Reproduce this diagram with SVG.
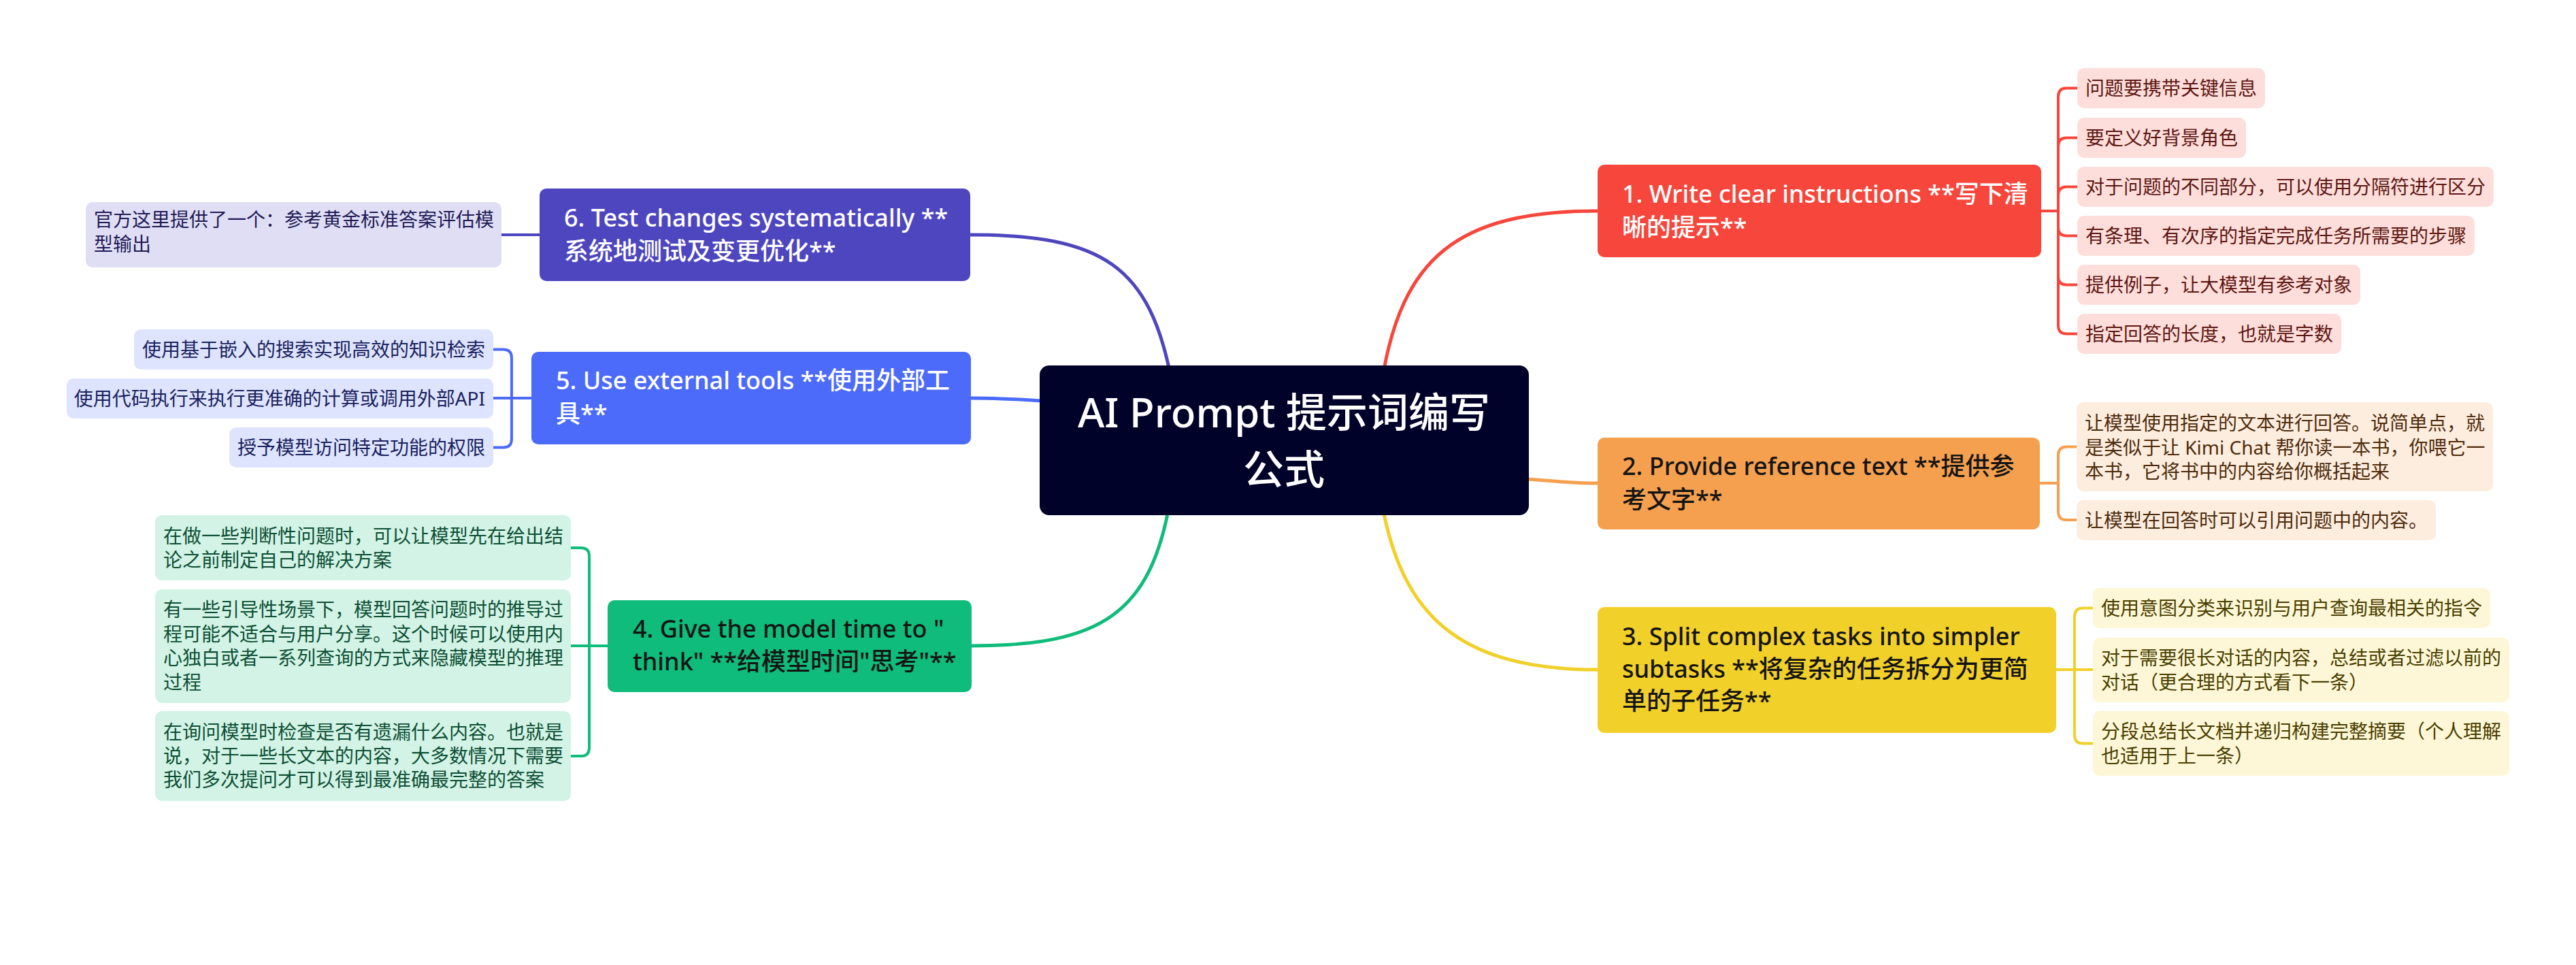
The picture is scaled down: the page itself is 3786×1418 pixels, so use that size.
<svg xmlns="http://www.w3.org/2000/svg" width="3786" height="1418" viewBox="0 0 3786 1418">
<style>
text{font-family:"Noto Sans","Noto Sans CJK SC",sans-serif;}
.main{font-size:36px;font-weight:500;}
.sub{font-size:28px;}
.cl{fill:none;stroke-width:5;stroke-linecap:round;}
.sl{fill:none;stroke-width:4;stroke-linecap:round;stroke-linejoin:round;}
.w{fill:#ffffff;}
.d{fill:#141414;}
</style>
<rect width="3786" height="1418" fill="#ffffff"/>
<g id="connectors">
<path class="cl" stroke="#F7463B" d="M2031,560 C2060,380 2140,310 2348,310"/>
<path class="cl" stroke="#F5A04F" d="M2230,703 C2290,707 2310,710 2348,710"/>
<path class="cl" stroke="#F2D02A" d="M2031,740 C2060,900 2140,984 2348,984"/>
<path class="cl" stroke="#4E46BF" d="M1722,560 C1690,390 1620,345 1426,345"/>
<path class="cl" stroke="#4D6BFA" d="M1545,590 C1490,586 1460,585 1427,585"/>
<path class="cl" stroke="#0FBC7B" d="M1719,740 C1690,900 1620,949 1428,949"/>
<g stroke="#F7463B" class="sl">
<path class="sl" d="M3000,310 H3025"/>
<path class="sl" d="M3025,310 V142 Q3025,129.5 3037,129.5 H3053"/>
<path class="sl" d="M3025,310 V215 Q3025,202.5 3037,202.5 H3053"/>
<path class="sl" d="M3025,310 V287 Q3025,274.5 3037,274.5 H3053"/>
<path class="sl" d="M3025,310 V334 Q3025,346.5 3037,346.5 H3053"/>
<path class="sl" d="M3025,310 V406 Q3025,418.5 3037,418.5 H3053"/>
<path class="sl" d="M3025,310 V478 Q3025,490.5 3037,490.5 H3053"/>
</g>
<g stroke="#F5A04F">
<path class="sl" d="M2998,710 H3025"/>
<path class="sl" d="M3025,710 V669 Q3025,656.5 3037,656.5 H3052"/>
<path class="sl" d="M3025,710 V752 Q3025,764 3037,764 H3052"/>
</g>
<g stroke="#F2D02A">
<path class="sl" d="M3022,984 H3076"/>
<path class="sl" d="M3049,984 V906 Q3049,893.5 3061,893.5 H3076"/>
<path class="sl" d="M3049,984 V1080 Q3049,1092.5 3061,1092.5 H3076"/>
</g>
<g stroke="#4E46BF">
<path class="sl" d="M737,345 H793"/>
</g>
<g stroke="#4D6BFA">
<path class="sl" d="M781,585 H725"/>
<path class="sl" d="M752,585 V526 Q752,513.5 740,513.5 H725"/>
<path class="sl" d="M752,585 V645 Q752,657.5 740,657.5 H725"/>
</g>
<g stroke="#0FBC7B">
<path class="sl" d="M893,949 H839"/>
<path class="sl" d="M866,949 V817 Q866,805 854,805 H839"/>
<path class="sl" d="M866,949 V1099 Q866,1111 854,1111 H839"/>
</g>
</g>
<g id="central">
<rect x="1528" y="537" width="719" height="220" rx="14" fill="#000229"/>
<text x="1887" y="628" text-anchor="middle" font-size="60" font-weight="500" fill="#ffffff">AI Prompt 提示词编写</text>
<text x="1887" y="712" text-anchor="middle" font-size="60" font-weight="500" fill="#ffffff">公式</text>
</g>
<g id="node1">
<rect x="2348" y="242" width="652" height="136" rx="10" fill="#F7463B"/>
<text class="main w" x="2384" y="298">1. Write clear instructions **写下清</text>
<text class="main w" x="2384" y="347">晰的提示**</text>
</g>
<g id="node1-c1"><rect x="3053" y="100" width="276" height="59" rx="10" fill="#FDDEDB"/><text class="sub" x="3065" y="140" fill="#5E1712">问题要携带关键信息</text></g>
<g id="node1-c2"><rect x="3053" y="173" width="248" height="59" rx="10" fill="#FDDEDB"/><text class="sub" x="3065" y="213" fill="#5E1712">要定义好背景角色</text></g>
<g id="node1-c3"><rect x="3053" y="245" width="612" height="59" rx="10" fill="#FDDEDB"/><text class="sub" x="3065" y="285" fill="#5E1712">对于问题的不同部分，可以使用分隔符进行区分</text></g>
<g id="node1-c4"><rect x="3053" y="317" width="584" height="59" rx="10" fill="#FDDEDB"/><text class="sub" x="3065" y="357" fill="#5E1712">有条理、有次序的指定完成任务所需要的步骤</text></g>
<g id="node1-c5"><rect x="3053" y="389" width="416" height="59" rx="10" fill="#FDDEDB"/><text class="sub" x="3065" y="429" fill="#5E1712">提供例子，让大模型有参考对象</text></g>
<g id="node1-c6"><rect x="3053" y="461" width="388" height="59" rx="10" fill="#FDDEDB"/><text class="sub" x="3065" y="501" fill="#5E1712">指定回答的长度，也就是字数</text></g>
<g id="node2">
<rect x="2348" y="643" width="650" height="135" rx="10" fill="#F5A04F"/>
<text class="main d" x="2384" y="698">2. Provide reference text **提供参</text>
<text class="main d" x="2384" y="747">考文字**</text>
</g>
<g id="node2-c1"><rect x="3052" y="591" width="612" height="131" rx="10" fill="#FDEDDF"/>
<text class="sub" x="3064" y="632" fill="#4E2C0C">让模型使用指定的文本进行回答。说简单点，就</text>
<text class="sub" x="3064" y="668" fill="#4E2C0C">是类似于让 Kimi Chat 帮你读一本书，你喂它一</text>
<text class="sub" x="3064" y="703" fill="#4E2C0C">本书，它将书中的内容给你概括起来</text></g>
<g id="node2-c2"><rect x="3052" y="735" width="528" height="59" rx="10" fill="#FDEDDF"/><text class="sub" x="3064" y="775" fill="#4E2C0C">让模型在回答时可以引用问题中的内容。</text></g>
<g id="node3">
<rect x="2348" y="892" width="674" height="185" rx="10" fill="#F2D02A"/>
<text class="main d" x="2384" y="948">3. Split complex tasks into simpler</text>
<text class="main d" x="2384" y="996">subtasks **将复杂的任务拆分为更简</text>
<text class="main d" x="2384" y="1043">单的子任务**</text>
</g>
<g id="node3-c1"><rect x="3076" y="864" width="584" height="59" rx="10" fill="#FDF7D7"/><text class="sub" x="3088" y="904" fill="#4A3F00">使用意图分类来识别与用户查询最相关的指令</text></g>
<g id="node3-c2"><rect x="3076" y="937" width="612" height="95" rx="10" fill="#FDF7D7"/>
<text class="sub" x="3088" y="977" fill="#4A3F00">对于需要很长对话的内容，总结或者过滤以前的</text>
<text class="sub" x="3088" y="1013" fill="#4A3F00">对话（更合理的方式看下一条）</text></g>
<g id="node3-c3"><rect x="3076" y="1045" width="612" height="95" rx="10" fill="#FDF7D7"/>
<text class="sub" x="3088" y="1085" fill="#4A3F00">分段总结长文档并递归构建完整摘要（个人理解</text>
<text class="sub" x="3088" y="1121" fill="#4A3F00">也适用于上一条）</text></g>
<g id="node4">
<rect x="893" y="882" width="535" height="135" rx="10" fill="#0FBC7B"/>
<text class="main d" x="930" y="937">4. Give the model time to "</text>
<text class="main d" x="930" y="985">think" **给模型时间"思考"**</text>
</g>
<g id="node4-c1"><rect x="228" y="757" width="611" height="96" rx="10" fill="#D2F3E5"/>
<text class="sub" x="240" y="798" fill="#0D4F35">在做一些判断性问题时，可以让模型先在给出结</text>
<text class="sub" x="240" y="833" fill="#0D4F35">论之前制定自己的解决方案</text></g>
<g id="node4-c2"><rect x="228" y="866" width="611" height="167" rx="10" fill="#D2F3E5"/>
<text class="sub" x="240" y="906" fill="#0D4F35">有一些引导性场景下，模型回答问题时的推导过</text>
<text class="sub" x="240" y="942" fill="#0D4F35">程可能不适合与用户分享。这个时候可以使用内</text>
<text class="sub" x="240" y="977" fill="#0D4F35">心独白或者一系列查询的方式来隐藏模型的推理</text>
<text class="sub" x="240" y="1013" fill="#0D4F35">过程</text></g>
<g id="node4-c3"><rect x="228" y="1045" width="611" height="132" rx="10" fill="#D2F3E5"/>
<text class="sub" x="240" y="1086" fill="#0D4F35">在询问模型时检查是否有遗漏什么内容。也就是</text>
<text class="sub" x="240" y="1121" fill="#0D4F35">说，对于一些长文本的内容，大多数情况下需要</text>
<text class="sub" x="240" y="1156" fill="#0D4F35">我们多次提问才可以得到最准确最完整的答案</text></g>
<g id="node5">
<rect x="781" y="517" width="646" height="136" rx="10" fill="#4D6BFA"/>
<text class="main w" x="817" y="572">5. Use external tools **使用外部工</text>
<text class="main w" x="817" y="621">具**</text>
</g>
<g id="node5-c1"><rect x="197" y="484" width="528" height="59" rx="10" fill="#DEE4FD"/><text class="sub" x="713" y="524" text-anchor="end" fill="#1A2260">使用基于嵌入的搜索实现高效的知识检索</text></g>
<g id="node5-c2"><rect x="98" y="556" width="627" height="59" rx="10" fill="#DEE4FD"/><text class="sub" x="713" y="596" text-anchor="end" fill="#1A2260">使用代码执行来执行更准确的计算或调用外部API</text></g>
<g id="node5-c3"><rect x="337" y="628" width="388" height="59" rx="10" fill="#DEE4FD"/><text class="sub" x="713" y="668" text-anchor="end" fill="#1A2260">授予模型访问特定功能的权限</text></g>
<g id="node6">
<rect x="793" y="277" width="633" height="136" rx="10" fill="#4E46BF"/>
<text class="main w" x="829" y="333">6. Test changes systematically **</text>
<text class="main w" x="829" y="382">系统地测试及变更优化**</text>
</g>
<g id="node6-c1"><rect x="126" y="297" width="611" height="96" rx="10" fill="#E0DEF5"/>
<text class="sub" x="138" y="333" fill="#211B55">官方这里提供了一个：参考黄金标准答案评估模</text>
<text class="sub" x="138" y="369" fill="#211B55">型输出</text></g>
</svg>
